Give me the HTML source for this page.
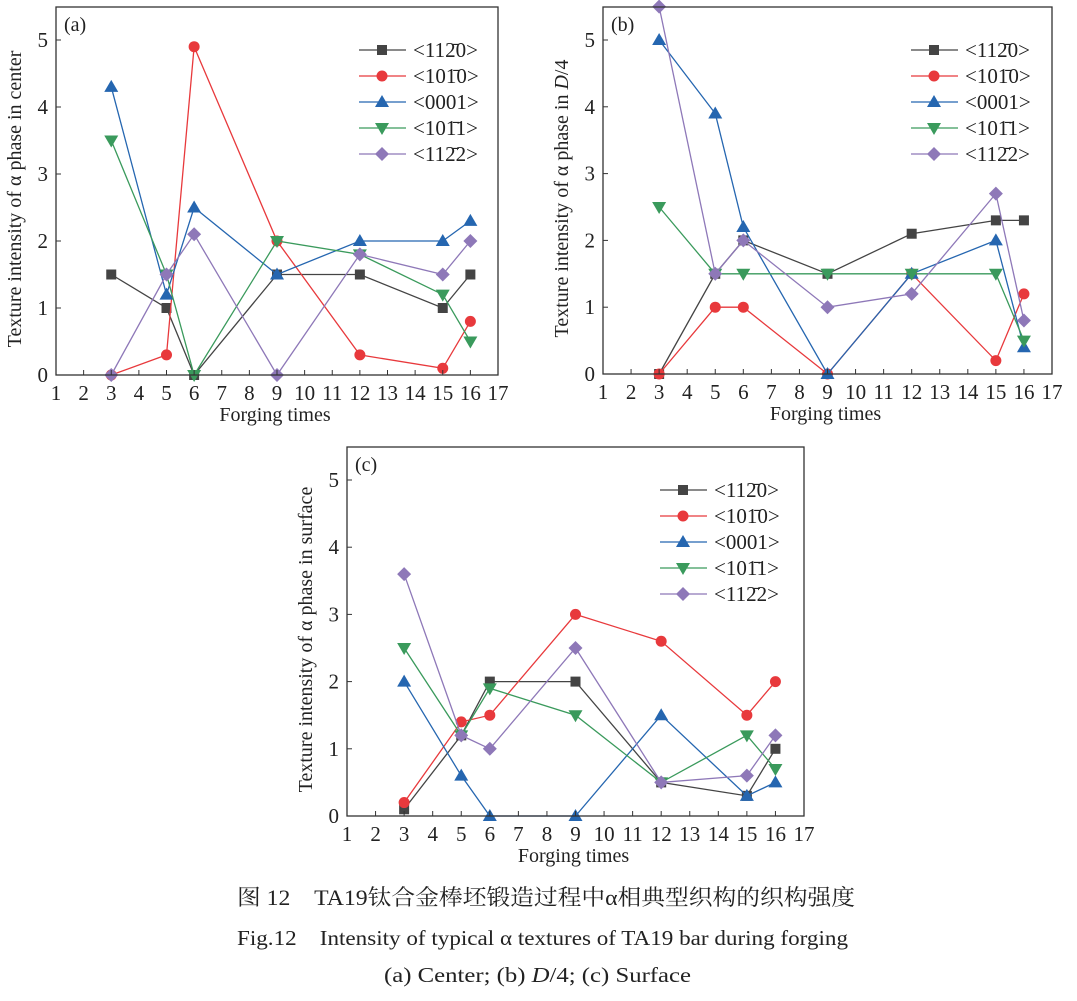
<!DOCTYPE html>
<html><head><meta charset="utf-8"><style>
html,body{margin:0;padding:0;background:#fff;}
svg text{font-family:"Liberation Serif","Noto Serif CJK SC",serif;fill:#222;}
</style></head><body>
<svg id="s" width="1077" height="996" xmlns="http://www.w3.org/2000/svg">
<text x="237" y="905" font-size="22" textLength="618" lengthAdjust="spacingAndGlyphs">图 12　TA19钛合金棒坯锻造过程中α相典型织构的织构强度</text>
<text x="237" y="945" font-size="21" textLength="611" lengthAdjust="spacingAndGlyphs">Fig.12　Intensity of typical α textures of TA19 bar during forging</text>
<text x="384" y="982" font-size="21" textLength="307" lengthAdjust="spacingAndGlyphs">(a) Center; (b) <tspan font-style="italic">D</tspan>/4; (c) Surface</text>
</svg>
<script>
const NS="http://www.w3.org/2000/svg",S=document.getElementById('s');
function el(t,a,txt){const e=document.createElementNS(NS,t);for(const k in a)e.setAttribute(k,a[k]);if(txt!==undefined)e.textContent=txt;S.appendChild(e);return e;}
const X=[3,5,6,9,12,15,16];
const cols=['#444','#e8393c','#2566b0','#3a9a5c','#8e78b8'];
const labs=['<112\u03040>','<101\u03040>','<0001>','<101\u03041>','<112\u03042>'];
function marker(k,x,y){const c=cols[k];
 if(k==0)el('rect',{x:x-5,y:y-5,width:10,height:10,fill:c});
 else if(k==1)el('circle',{cx:x,cy:y,r:5.5,fill:c});
 else if(k==2)el('polygon',{points:`${x},${y-7} ${x+7},${y+5} ${x-7},${y+5}`,fill:c});
 else if(k==3)el('polygon',{points:`${x},${y+7} ${x+7},${y-5} ${x-7},${y-5}`,fill:c});
 else el('polygon',{points:`${x},${y-7} ${x+7},${y} ${x},${y+7} ${x-7},${y}`,fill:c});}
function panel(P){
 const {L,R,T,B,y5,data,lab,ytitle,lx,ly}=P;
 const sx=v=>L+(v-1)*(R-L)/16, sy=v=>B-v*(B-y5)/5;
 for(let k=0;k<5;k++){
  const pts=X.map((x,i)=>sx(x)+','+sy(data[k][i])).join(' ');
  el('polyline',{points:pts,fill:'none',stroke:cols[k],'stroke-width':1.3});
  X.forEach((x,i)=>marker(k,sx(x),sy(data[k][i])));
 }
 el('rect',{x:L,y:T,width:R-L,height:B-T,fill:'none',stroke:'#333','stroke-width':1.3});
 for(let i=1;i<=17;i++){const x=sx(i);el('line',{x1:x,x2:x,y1:B,y2:B-5,stroke:'#333'});
  el('text',{x:x,y:B+25,'font-size':21,'text-anchor':'middle'},String(i));}
 for(let j=0;j<=5;j++){const y=sy(j);el('line',{x1:L,x2:L+5,y1:y,y2:y,stroke:'#333'});
  el('text',{x:L-8,y:y+7,'font-size':21,'text-anchor':'end'},String(j));}
 el('text',{x:(L+R)/2-2,y:B+46,'font-size':20,'text-anchor':'middle'},'Forging times');
 el('text',{x:L+8,y:T+24,'font-size':20},lab);
 const yt=el('text',{x:0,y:0,'font-size':20,'text-anchor':'middle',transform:`translate(${L-35},${(T+B)/2+8}) rotate(-90)`});
 yt.innerHTML=ytitle;
 for(let k=0;k<5;k++){const y=ly+k*26;
  el('line',{x1:lx,x2:lx+47,y1:y,y2:y,stroke:cols[k],'stroke-width':1.3});
  marker(k,lx+23,y);
  el('text',{x:lx+54,y:y+7,'font-size':21},labs[k]);}
}
panel({L:56,R:498,T:7,B:375,y5:40,lab:'(a)',lx:359,ly:50,ytitle:'Texture intensity of α phase in center',
data:[[1.5,1,0,1.5,1.5,1,1.5],[0,0.3,4.9,2,0.3,0.1,0.8],[4.3,1.2,2.5,1.5,2,2,2.3],[3.5,1.5,0,2,1.8,1.2,0.5],[0,1.5,2.1,0,1.8,1.5,2]]});
panel({L:603,R:1052,T:7,B:374,y5:40,lab:'(b)',lx:911,ly:50,ytitle:'Texture intensity of α phase in <tspan font-style="italic">D</tspan>/4',
data:[[0,1.5,2,1.5,2.1,2.3,2.3],[0,1,1,0,1.5,0.2,1.2],[5,3.9,2.2,0,1.5,2,0.4],[2.5,1.5,1.5,1.5,1.5,1.5,0.5],[5.5,1.5,2,1,1.2,2.7,0.8]]});
panel({L:347,R:804,T:447,B:816,y5:480,lab:'(c)',lx:660,ly:490,ytitle:'Texture intensity of α phase in surface',
data:[[0.1,1.2,2,2,0.5,0.3,1],[0.2,1.4,1.5,3,2.6,1.5,2],[2,0.6,0,0,1.5,0.3,0.5],[2.5,1.2,1.9,1.5,0.5,1.2,0.7],[3.6,1.2,1,2.5,0.5,0.6,1.2]]});
</script>
</body></html>
